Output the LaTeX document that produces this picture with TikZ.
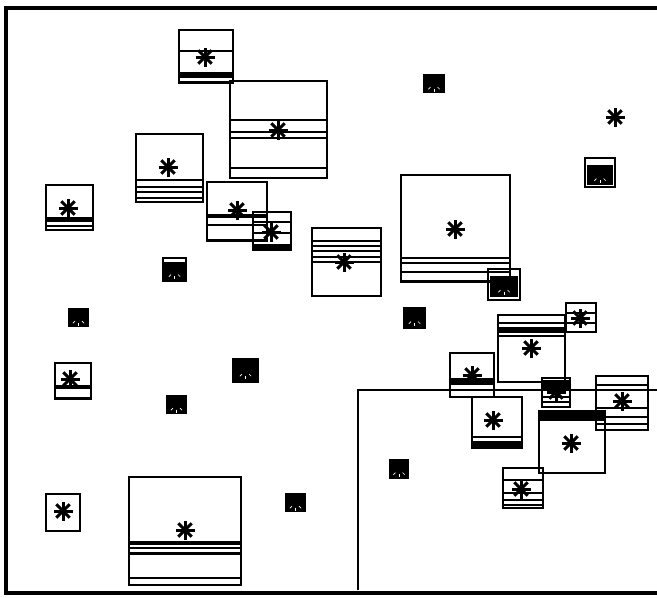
\documentclass[tikz,border=0pt]{standalone}
\begin{document}
\begin{tikzpicture}[x=1pt,y=-1pt,
  boxline/.style={line width=1.2pt},
  frameline/.style={line width=3.2pt},
  band/.style={fill=black},
  spokes/.pic={\foreach \a in {0,45,90,135}{\draw[line width=3pt] (\a:9.5) -- (\a+180:9.5);}},
  wspokes/.pic={\foreach \a in {45,90,135}{\draw[white,line width=0.7pt] (\a:5) -- (\a:8);}}]
\useasboundingbox (0,0) rectangle (657,598);
\newcommand\bx[4]{\draw[boxline] (#1,#2) rectangle (#3,#4);}
\newcommand\hl[3]{\draw[boxline] (#1,#3) -- (#2,#3);}
\newcommand\bd[4]{\fill[band] (#1,#2) rectangle (#3,#4);}
\newcommand\blk[4]{\fill (#1,#2) rectangle (#3,#4); \pic at ({(#1+#3)/2},{(#2+#4)/2}) {wspokes};}
% outer frame
\draw[frameline] (657,8) -- (6,8) -- (6,593) -- (657,593);
% inner L
\draw[boxline] (657,390) -- (358,390) -- (358,590);
% A
\bx{179}{30}{233}{83} \hl{179}{233}{51} \bd{179}{72}{233}{78} \hl{179}{233}{82}
\pic at (205,57) {spokes};
% B
\bx{230}{81}{327}{178} \hl{230}{327}{120} \draw[line width=2pt] (230,132)--(327,132); \hl{230}{327}{138} \hl{230}{327}{168}
\pic at (278,130) {spokes};
% C
\bx{136}{134}{203}{202} \hl{136}{203}{180} \draw[line width=2.2pt] (136,187)--(203,187); \hl{136}{203}{192} \hl{136}{203}{198} \draw[line width=2pt] (136,202)--(203,202);
\pic at (168,167) {spokes};
% D
\bx{46}{185}{93}{230} \bd{46}{217}{93}{222} \hl{46}{93}{226} \draw[line width=2.2pt] (46,230)--(93,230);
\pic at (68,208) {spokes};
% E
\bx{207}{182}{267}{241} \bd{207}{214}{267}{218} \hl{207}{267}{225} \draw[line width=2.2pt] (207,240)--(267,240);
\pic at (237,210) {spokes};
% F
\bx{253}{212}{291}{250} \hl{253}{291}{222} \hl{253}{291}{233} \bd{253}{244}{291}{250}
\pic at (271,232) {spokes};
% G
\bx{312}{228}{381}{296} \hl{312}{381}{241} \hl{312}{381}{246} \hl{312}{381}{251} \hl{312}{381}{257} \hl{312}{381}{262}
\pic at (344,262) {spokes};
% H
\bx{401}{175}{510}{282} \hl{401}{510}{258} \hl{401}{510}{263} \hl{401}{510}{272} \draw[line width=2.2pt] (401,281)--(510,281);
\pic at (455,229) {spokes};
% small boxes, top area
\bx{488}{269}{520}{300} \blk{490}{276}{518}{297}
\bx{585}{158}{615}{187} \blk{587}{165}{613}{185}
\blk{423}{74}{445}{93}
\pic at (615,117) {spokes};
\bx{163}{258}{186}{281} \blk{164}{262}{185}{280}
% left column
\blk{68}{308}{89}{327}
\bx{55}{363}{91}{399} \bd{55}{385}{91}{389} \draw[line width=2pt] (55,398)--(91,398);
\pic at (70,379) {spokes};
\blk{232}{358}{259}{383}
\blk{166}{395}{187}{414}
\draw[line width=2pt] (46,494) rectangle (80,531);
\pic at (63,511) {spokes};
% big bottom box
\bx{129}{477}{241}{585} \bd{129}{541}{241}{545} \hl{129}{241}{548} \bd{129}{552}{241}{555} \hl{129}{241}{578}
\pic at (185,530) {spokes};
\blk{285}{493}{306}{512}
% right cluster
\blk{403}{307}{426}{329}
\blk{389}{459}{409}{479}
% I
\bx{498}{315}{565}{382} \hl{498}{565}{323} \bd{498}{327}{565}{333} \hl{498}{565}{336}
\pic at (531,348) {spokes};
% small top right
\bx{566}{303}{596}{332} \hl{566}{596}{313} \hl{566}{596}{323}
\pic at (580,318) {spokes};
% J
\bx{450}{353}{494}{397} \bd{450}{378}{494}{385} \hl{450}{494}{390}
\pic at (472,375) {spokes};
% K
\bx{472}{397}{522}{448} \hl{472}{522}{437} \bd{472}{441}{522}{448}
\pic at (493,420) {spokes};
% small middle
\bx{542}{378}{570}{407} \bd{542}{380}{570}{391} \hl{542}{570}{397} \hl{542}{570}{402}
\pic at (556,392) {spokes};
% L
\bx{539}{411}{605}{473} \bd{539}{411}{605}{421}
\pic at (571,443) {spokes};
% M
\bx{596}{376}{648}{430} \hl{596}{648}{385} \hl{596}{648}{408} \draw[line width=2pt] (596,417)--(648,417); \hl{596}{648}{424}
\pic at (622,401) {spokes};
% N
\bx{503}{468}{543}{508} \hl{503}{543}{480} \hl{503}{543}{493} \hl{503}{543}{500} \hl{503}{543}{505}
\pic at (521,489) {spokes};
\end{tikzpicture}
\end{document}
